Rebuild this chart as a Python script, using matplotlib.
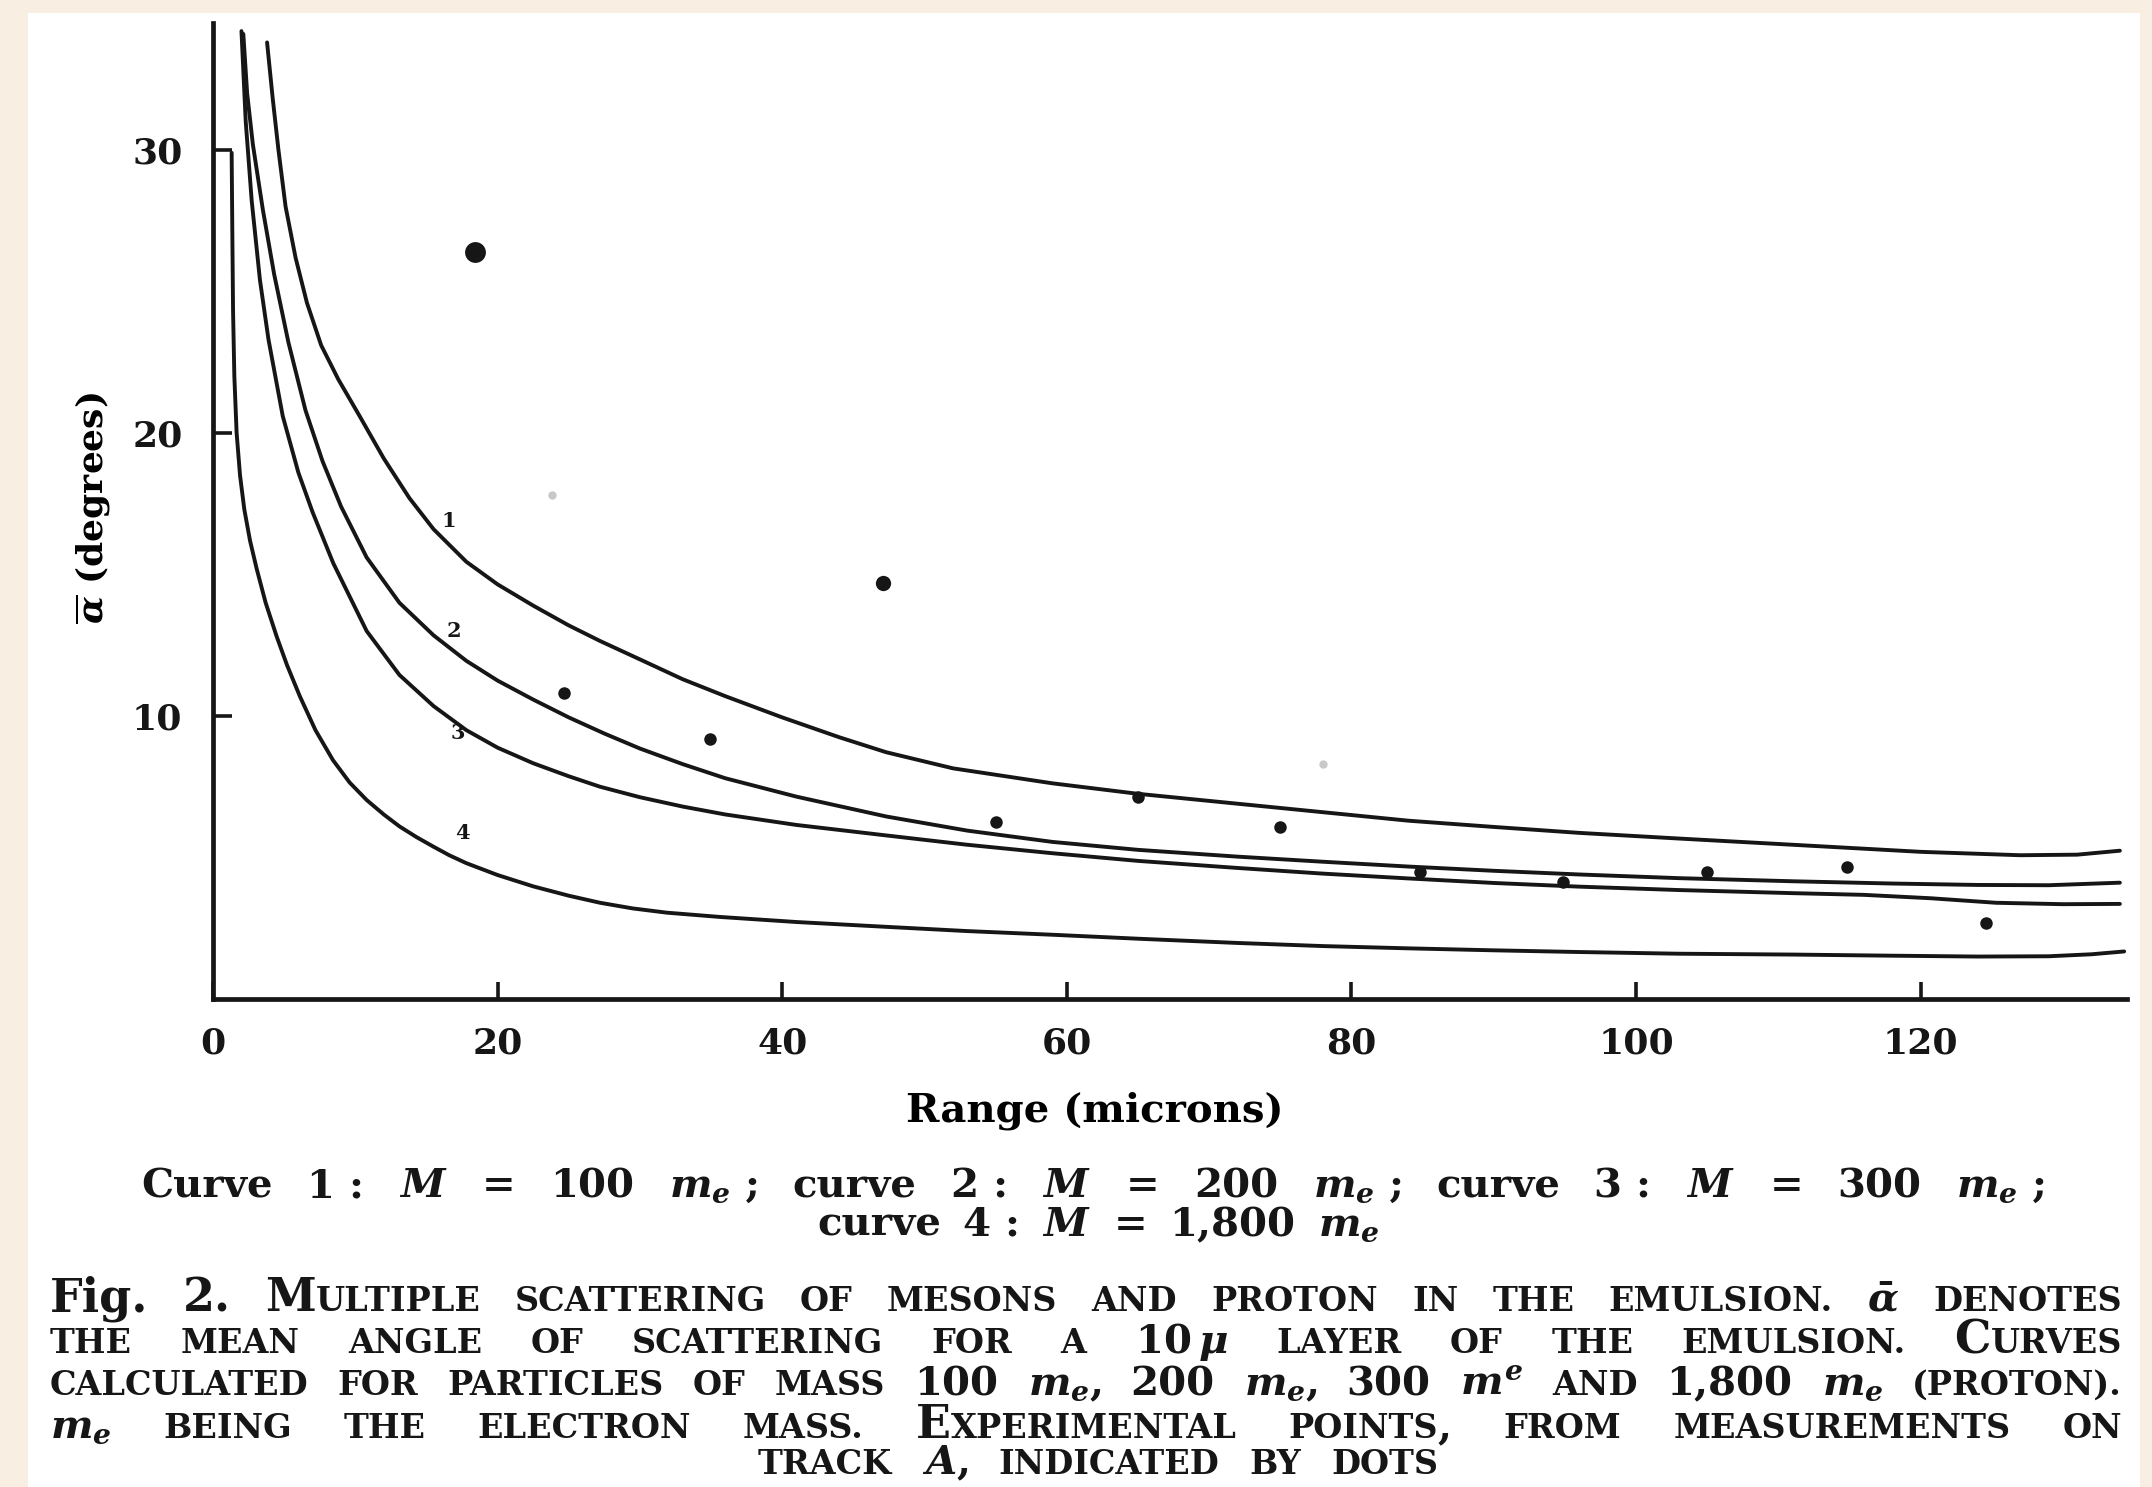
import matplotlib.pyplot as plt
import matplotlib.patches as mpatches

# ---- data ---------------------------------------------------------------
# curve 1 : M = 100 m_e
c1_x = [3.8, 4.2, 4.6, 5.1, 5.8, 6.6, 7.6, 8.8, 10.3, 12.0, 13.8, 15.5, 17.8, 20.0,
        22.5, 25.0, 27.2, 30.0, 33.0, 36.0, 40.0, 44.0, 47.3, 52.0, 59.0, 65.0, 72.0,
        78.0, 84.0, 90.0, 96.0, 103.0, 111.0, 120.0, 127.0, 131.0, 134.0]
c1_y = [33.8, 31.8, 30.0, 28.0, 26.2, 24.6, 23.1, 21.9, 20.6, 19.1, 17.7, 16.6, 15.45, 14.65,
        13.9, 13.2, 12.65, 12.0, 11.3, 10.7, 9.95, 9.25, 8.72, 8.15, 7.62, 7.25, 6.9,
        6.6, 6.3, 6.08, 5.87, 5.67, 5.45, 5.2, 5.08, 5.1, 5.24]
# curve 2 : M = 200 m_e
c2_x = [2.13, 2.4, 2.8, 3.5, 4.3, 5.3, 6.5, 7.7, 9.0, 10.8, 13.1, 15.5, 17.8, 20.0,
        22.5, 25.0, 27.5, 30.0, 33.0, 36.0, 41.0, 47.3, 53.0, 59.0, 65.0, 72.0, 78.0,
        84.0, 90.0, 96.0, 103.0, 111.0, 118.0, 124.0, 129.0, 134.0]
c2_y = [34.1, 32.0, 30.2, 27.9, 25.6, 23.2, 20.8, 19.0, 17.4, 15.6, 14.0, 12.85, 11.95, 11.25,
        10.58, 9.95, 9.38, 8.85, 8.3, 7.8, 7.15, 6.45, 5.95, 5.55, 5.27, 5.03, 4.85,
        4.68, 4.53, 4.4, 4.27, 4.16, 4.08, 4.03, 4.02, 4.11]
# curve 3 : M = 300 m_e
c3_x = [2.0, 2.3, 2.72, 3.3, 3.9, 4.9, 6.0, 7.0, 8.45, 10.8, 13.1, 15.5, 17.8, 20.0,
        22.5, 25.0, 27.2, 30.0, 33.0, 36.0, 41.0, 47.3, 53.0, 59.0, 65.0, 72.0, 78.0,
        84.0, 90.0, 96.0, 103.0, 111.0, 116.0, 120.7, 125.3, 130.0, 134.0]
c3_y = [34.2, 31.0, 28.2, 25.4, 23.3, 20.6, 18.6, 17.2, 15.4, 13.0, 11.45, 10.35, 9.5, 8.88,
        8.33, 7.87, 7.5, 7.13, 6.8, 6.52, 6.15, 5.78, 5.45, 5.15, 4.88, 4.63, 4.43,
        4.26, 4.1, 3.97, 3.85, 3.74, 3.68, 3.56, 3.4, 3.35, 3.36]
# curve 4 : M = 1,800 m_e
c4_x = [1.31, 1.36, 1.41, 1.5, 1.66, 1.9, 2.2, 2.6, 3.07, 3.7, 4.48, 5.2, 6.1, 7.2,
        8.43, 9.6, 10.8, 12.0, 13.1, 14.3, 15.5, 16.6, 17.8, 20.0, 22.5, 25.0, 27.2,
        29.5, 31.9, 35.6, 41.0, 47.3, 53.0, 59.0, 65.0, 72.0, 78.0, 84.0, 90.0, 96.0,
        103.0, 111.0, 118.0, 124.0, 129.0, 132.0, 134.3]
c4_y = [29.9, 27.0, 24.3, 22.0, 20.0, 18.5, 17.3, 16.2, 15.2, 14.0, 12.8, 11.8, 10.7, 9.5,
        8.44, 7.65, 7.03, 6.52, 6.1, 5.72, 5.38, 5.08, 4.8, 4.38, 3.98, 3.65, 3.4,
        3.2, 3.05, 2.9, 2.72, 2.55, 2.4, 2.27, 2.13, 1.98, 1.87, 1.79, 1.72, 1.66,
        1.6, 1.57, 1.53, 1.5, 1.51, 1.58, 1.68]

# experimental points (track A)
dots_x = [18.4, 47.1, 24.7, 34.9, 55.0, 65.0, 75.0, 84.8, 94.9, 105.0, 114.8, 124.6]
dots_y = [26.4, 14.7, 10.8, 9.2, 6.27, 7.15, 6.09, 4.5, 4.15, 4.5, 4.68, 2.67]
faint_x = [23.8, 78.0]
faint_y = [17.8, 8.3]

# small curve numbers
num_text = ['1', '2', '3', '4']
num_x = [16.6, 16.9, 17.2, 17.5]
num_y = [16.9, 13.0, 9.4, 5.86]

xticks = [0, 20, 40, 60, 80, 100, 120]
yticks = [10, 20, 30]

legend_1 = ['Curve', '1 :', '$M$', '=', '100', '$m_e$ ;', 'curve', '2 :', '$M$', '=',
            '200', '$m_e$ ;', 'curve', '3 :', '$M$', '=', '300', '$m_e$ ;']
legend_2 = ['curve', '4 :', '$M$', '=', '1,800', '$m_e$']

caption = [
    ['Fig.', '2.', 'Multiple', 'scattering', 'of', 'mesons', 'and', 'proton', 'in', 'the',
     'emulsion.', r'$\bar{\alpha}$', 'denotes'],
    ['the', 'mean', 'angle', 'of', 'scattering', 'for', 'a', r'$10\,\mu$', 'layer', 'of',
     'the', 'emulsion.', 'Curves'],
    ['calculated', 'for', 'particles', 'of', 'mass', '100', '$m_e$,', '200', '$m_e$,', '300',
     '$m^e$', 'and', '1,800', '$m_e$', '(proton).'],
    ['$m_e$', 'being', 'the', 'electron', 'mass.', 'Experimental', 'points,', 'from',
     'measurements', 'on'],
    ['track', '$A$,', 'indicated', 'by', 'dots'],
]
NORMAL_WORDS = {'Fig.', '2.'}

# ---- style ---------------------------------------------------------------
INK = '#161616'
PAPER = '#f8eee2'
plt.rcParams['font.family'] = 'DejaVu Serif'
plt.rcParams['font.weight'] = 'bold'
plt.rcParams['axes.labelweight'] = 'bold'
plt.rcParams['mathtext.fontset'] = 'custom'
plt.rcParams['mathtext.rm'] = 'DejaVu Serif:bold'
plt.rcParams['mathtext.it'] = 'DejaVu Serif:italic:bold'
plt.rcParams['mathtext.bf'] = 'DejaVu Serif:bold'
plt.rcParams['text.color'] = INK

W, H = 2152, 1487
fig = plt.figure(figsize=(W / 100, H / 100), dpi=100, facecolor=PAPER)
fig.patches.append(mpatches.Rectangle((28 / W, 0), (2140 - 28) / W, 1 - 13 / H,
                                      transform=fig.transFigure, facecolor='white',
                                      edgecolor='none', zorder=-10))

ax = fig.add_axes([213 / W, 1 - 999 / H, 1914 / W, 976.4 / H])
ax.set_facecolor('none')

for xs, ys in [(c1_x, c1_y), (c2_x, c2_y), (c3_x, c3_y), (c4_x, c4_y)]:
    ax.plot(xs, ys, color=INK, lw=2.8, solid_capstyle='round', solid_joinstyle='round')

ax.plot(dots_x, dots_y, 'o', color=INK, ms=9, mec='none')
ax.plot(dots_x[:1], dots_y[:1], 'o', color=INK, ms=15, mec='none')
ax.plot(dots_x[1:2], dots_y[1:2], 'o', color=INK, ms=11, mec='none')
ax.plot(faint_x, faint_y, 'o', color='#c8c8c8', ms=6, mec='none')

for t, x, y in zip(num_text, num_x, num_y):
    ax.text(x, y, t, fontsize=15, ha='center', va='center', color=INK)

ax.set_xlim(0, 134.5)
ax.set_ylim(0, 34.5)
ax.set_xticks(xticks)
ax.set_yticks(yticks)
for side in ['top', 'right']:
    ax.spines[side].set_visible(False)
for side in ['left', 'bottom']:
    ax.spines[side].set_linewidth(3.4)
    ax.spines[side].set_color(INK)
ax.tick_params(axis='both', direction='in', width=2.6, color=INK, labelsize=26,
               labelcolor=INK)
ax.tick_params(axis='y', length=13.5, pad=22)
ax.tick_params(axis='x', length=12, pad=20)

ax.set_xlabel('Range (microns)', fontsize=29, fontweight='bold', va='baseline')
ax.xaxis.set_label_coords((1095 - 213) / 1914, (999 - 1122) / 976.4)
ax.set_ylabel(r'$\overline{\alpha}$ (degrees)', fontsize=26, fontweight='bold',
              va='center', ha='center')
ax.yaxis.set_label_coords((93 - 213) / 1914, (999 - 508) / 976.4)

# ---- text blocks below the axes -----------------------------------------
renderer = fig.canvas.get_renderer()


def width_of(s, size):
    t = fig.text(0, 0, s, fontsize=size)
    w = t.get_window_extent(renderer).width
    t.remove()
    return w


def small_caps(word, small=24, big=33, num=29):
    if '$' in word:
        return [(word, num)]
    if word in NORMAL_WORDS:
        return [(word, big)]
    segs = []
    for ch in word:
        if ch.isupper():
            size = big
        elif ch.isdigit() or ch == ',':
            size = num
        else:
            size = small
        ch = ch.upper()
        if segs and segs[-1][1] == size:
            segs[-1] = (segs[-1][0] + ch, size)
        else:
            segs.append((ch, size))
    return segs


def place_line(words, base_y, x0, x1):
    widths = [[width_of(s, sz) for s, sz in w] for w in words]
    total = sum(sum(w) for w in widths)
    gap = (x1 - x0 - total) / max(len(words) - 1, 1)
    x = x0
    for w, ws in zip(words, widths):
        for (s, sz), sw in zip(w, ws):
            fig.text(x / W, 1 - base_y / H, s, fontsize=sz, ha='left', va='baseline')
            x += sw
        x += gap


place_line([[(w, 29)] for w in legend_1], 1197, 141, 2045)
place_line([[(w, 29)] for w in legend_2], 1236, 817, 1379)

caption_base = [1311, 1353, 1395, 1438]
for words, base in zip(caption[:4], caption_base):
    place_line([small_caps(w) for w in words], base, 50, 2122)
last = [small_caps(w) for w in caption[4]]
last_w = sum(width_of(s, sz) for w in last for s, sz in w) + 30 * (len(last) - 1)
place_line(last, 1474, 1098 - last_w / 2, 1098 + last_w / 2)

fig.savefig('out.png', dpi=100, facecolor=PAPER)
